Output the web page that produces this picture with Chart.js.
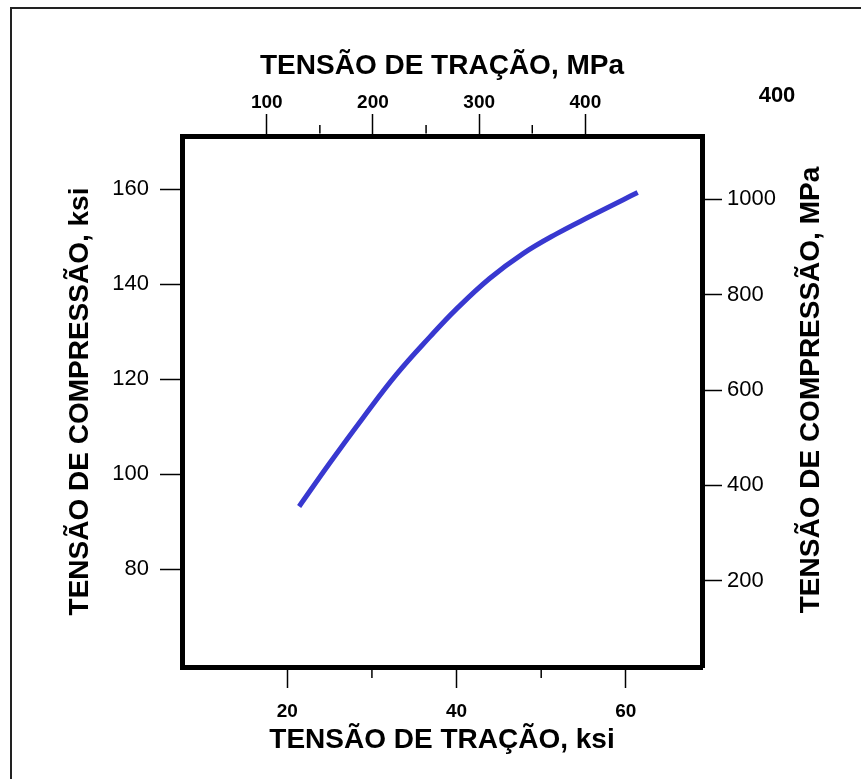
<!DOCTYPE html>
<html>
<head>
<meta charset="utf-8">
<script src="https://cdn.jsdelivr.net/npm/chart.js@4.4.1/dist/chart.umd.min.js"></script>
<style>
  html, body { margin: 0; padding: 0; background: #fff; }
  #wrap { position: relative; width: 861px; height: 779px; }
</style>
</head>
<body>
<div id="wrap"><canvas id="myChart"></canvas></div>
<script>
// curve (ksi)
const tensileKsi = [21.4, 25.0, 29.0, 32.9, 36.9, 40.0, 43.9, 47.9, 51.8, 55.8, 59.7, 61.4];
const compressiveKsi = [93.2, 102.3, 112.0, 121.0, 129.0, 134.8, 141.2, 146.5, 150.6, 154.3, 157.8, 159.3];

// tick labels
const bottomTicks = [20, 40, 60];
const bottomMinor = [30, 50];
const topTicks = [100, 200, 300, 400];
const topMinor = [150, 250, 350];
const leftTicks = [80, 100, 120, 140, 160];
const rightTicks = [200, 400, 600, 800, 1000];
const strayLabel = '400';

const FONT = "'Liberation Sans', Arial, sans-serif";

const points = tensileKsi.map((x, i) => ({ x: x, y: compressiveKsi[i] }));

function fixTicks(list) {
  return (s) => { s.ticks = list.map(v => ({ value: v })); };
}

function tickGrid(len) {
  return {
    display: true,
    drawOnChartArea: false,
    drawTicks: true,
    tickLength: len,
    tickWidth: 1.5,
    tickColor: '#000'
  };
}

const border = { display: true, width: 5, color: '#000' };

const extras = {
  id: 'extras',
  beforeDraw(chart) {
    const c = chart.ctx;
    c.save();
    c.strokeStyle = '#222';
    c.lineWidth = 2;
    c.beginPath();
    c.moveTo(11, 779);
    c.lineTo(11, 8);
    c.lineTo(861, 8);
    c.stroke();
    c.restore();
  },
  afterDraw(chart) {
    const c = chart.ctx;
    const area = chart.chartArea;
    c.save();
    c.strokeStyle = '#000';
    c.lineWidth = 1.5;
    // minor ticks
    bottomMinor.forEach(v => {
      const px = chart.scales.x.getPixelForValue(v);
      c.beginPath(); c.moveTo(px, area.bottom + 2.5); c.lineTo(px, area.bottom + 11); c.stroke();
    });
    topMinor.forEach(v => {
      const px = chart.scales.x2.getPixelForValue(v);
      c.beginPath(); c.moveTo(px, area.top - 2.5); c.lineTo(px, area.top - 11); c.stroke();
    });
    // right axis title, reading upwards like the left one
    c.fillStyle = '#000';
    c.font = 'bold 28px ' + FONT;
    c.textAlign = 'center';
    c.textBaseline = 'middle';
    c.translate(811, 390);
    c.rotate(-Math.PI / 2);
    c.fillText('TENSÃO DE COMPRESSÃO, MPa', 0, 0);
    c.restore();

    c.save();
    c.fillStyle = '#000';
    c.font = 'bold 22px ' + FONT;
    c.textAlign = 'center';
    c.textBaseline = 'middle';
    c.fillText(strayLabel, 777, 96);
    c.restore();
  }
};

const ctx = document.getElementById('myChart');

new Chart(ctx, {
  type: 'scatter',
  data: {
    datasets: [{
      label: 'Compressão x Tração',
      data: points,
      xAxisID: 'x',
      yAxisID: 'y',
      showLine: true,
      borderColor: '#3838d0',
      borderWidth: 5,
      pointRadius: 0,
      pointHoverRadius: 0,
      tension: 0.4,
      fill: false
    }]
  },
  options: {
    responsive: true,
    maintainAspectRatio: false,
    animation: false,
    events: [],
    layout: { padding: 0 },
    plugins: {
      legend: { display: false },
      tooltip: { enabled: false }
    },
    scales: {
      x: {
        type: 'linear',
        position: 'bottom',
        min: 7.56,
        max: 69.0,
        afterBuildTicks: fixTicks(bottomTicks),
        afterFit: (s) => { s.height = 112; },
        grid: tickGrid(21),
        border: border,
        ticks: {
          autoSkip: false, maxRotation: 0, padding: 12, color: '#000',
          font: { family: FONT, size: 19, weight: 'bold' },
          callback: (v) => String(v)
        },
        title: {
          display: true, text: 'TENSÃO DE TRAÇÃO, ksi', color: '#000',
          font: { family: FONT, size: 28, weight: 'bold' },
          padding: { top: 0, bottom: 22 }
        }
      },
      x2: {
        type: 'linear',
        position: 'top',
        min: 20.2,
        max: 509.8,
        afterBuildTicks: fixTicks(topTicks),
        afterFit: (s) => { s.height = 136; },
        grid: tickGrid(22),
        border: border,
        ticks: {
          autoSkip: false, maxRotation: 0, padding: 0, color: '#000',
          font: { family: FONT, size: 19, weight: 'bold' },
          callback: (v) => String(v)
        },
        title: {
          display: true, text: 'TENSÃO DE TRAÇÃO, MPa', color: '#000',
          font: { family: FONT, size: 28, weight: 'bold' },
          padding: { top: 49, bottom: 0 }
        }
      },
      y: {
        type: 'linear',
        position: 'left',
        min: 59.4,
        max: 171.2,
        afterBuildTicks: fixTicks(leftTicks),
        afterFit: (s) => { s.width = 182; },
        grid: tickGrid(22),
        border: border,
        ticks: {
          autoSkip: false, padding: 11, color: '#000',
          font: { family: FONT, size: 22 },
          callback: (v) => String(v)
        },
        title: {
          display: true, text: 'TENSÃO DE COMPRESSÃO, ksi', color: '#000',
          font: { family: FONT, size: 28, weight: 'bold' },
          padding: { top: 63, bottom: 0 }
        }
      },
      y2: {
        type: 'linear',
        position: 'right',
        min: 19.1,
        max: 1132.8,
        afterBuildTicks: fixTicks(rightTicks),
        afterFit: (s) => { s.width = 159; },
        grid: tickGrid(20),
        border: border,
        ticks: {
          autoSkip: false, padding: 5, color: '#000',
          font: { family: FONT, size: 22 },
          callback: (v) => String(v)
        }
      }
    }
  },
  plugins: [extras]
});
</script>
</body>
</html>
